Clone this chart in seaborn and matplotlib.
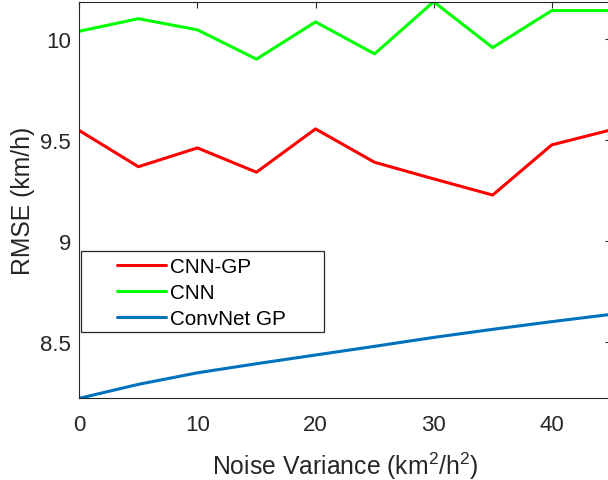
import matplotlib
matplotlib.use("Agg")
import matplotlib.pyplot as plt
import seaborn as sns
import pandas as pd
from matplotlib.patches import Rectangle

noise = [0, 5, 10, 15, 20, 25, 30, 35, 40, 45]
cnn_gp = [9.547, 9.368, 9.461, 9.341, 9.555, 9.39, 9.308, 9.228, 9.476, 9.55]
cnn = [10.038, 10.10, 10.045, 9.90, 10.084, 9.926, 10.184, 9.957, 10.14, 10.14]
convnet_gp = [8.223, 8.292, 8.349, 8.394, 8.437, 8.48, 8.524, 8.564, 8.602, 8.638]
series_names = ["CNN-GP", "CNN", "ConvNet GP"]
x_ticks = [0, 10, 20, 30, 40]
y_ticks = [8.5, 9, 9.5, 10]

sns.set_style("white")
plt.rcParams["font.family"] = ["Liberation Sans", "DejaVu Sans"]
plt.rcParams["mathtext.fontset"] = "custom"
plt.rcParams["mathtext.rm"] = "Liberation Sans"
plt.rcParams["mathtext.it"] = "Liberation Sans:italic"

df = pd.DataFrame({
    "x": noise * 3,
    "y": cnn_gp + cnn + convnet_gp,
    "model": [series_names[0]] * len(noise) + [series_names[1]] * len(noise) + [series_names[2]] * len(noise),
})

W, H = 608, 481
fig = plt.figure(figsize=(W / 100, H / 100), dpi=100)
ax = fig.add_axes([79.3 / W, 1 - 399.3 / H, (610.8 - 79.3) / W, (399.3 - 2.7) / H])

palette = {"CNN-GP": (1, 0, 0), "CNN": (0, 1, 0), "ConvNet GP": (0, 0.447, 0.741)}
sns.lineplot(data=df, x="x", y="y", hue="model", hue_order=series_names,
             palette=palette, linewidth=2.2, ax=ax, legend=True)

gray = (0.15, 0.15, 0.15)
ax.set_xlim(min(noise), max(noise))
ax.set_ylim(min(df["y"]), max(df["y"]))
ax.set_xticks(x_ticks)
ax.set_yticks(y_ticks)
ax.set_yticklabels(["8.5", "9", "9.5", "10"])
ax.tick_params(direction="in", length=4, width=0.8, top=True, right=True,
               labelsize=16, colors=gray, pad=6)
ax.tick_params(axis="x", pad=11)
for s in ax.spines.values():
    s.set_visible(True)
    s.set_color(gray)
    s.set_linewidth(0.8)
ax.set_xlabel("Noise Variance (km$^2$/h$^2$)", fontsize=17.8, color=gray, labelpad=11)
ax.set_ylabel("RMSE (km/h)", fontsize=17.8, color=gray, labelpad=4)

# legend box frame
ax.add_patch(Rectangle((80.7 / W, 1 - 332.7 / H), (324 - 80.7) / W, (332.7 - 251.7) / H,
                       transform=fig.transFigure, facecolor="white", clip_on=False,
                       edgecolor=gray, linewidth=0.9, zorder=3))
handles, labels = ax.get_legend_handles_labels()
leg = ax.legend(handles, labels, loc="upper left", bbox_to_anchor=(117 / W, 1 - 258 / H),
                bbox_transform=fig.transFigure, frameon=False, fontsize=14.9,
                handlelength=2.35, handletextpad=0.2, labelspacing=0.34, borderpad=0,
                borderaxespad=0)
leg.set_zorder(4)
for t in leg.get_texts():
    t.set_color("black")

fig.savefig("out.png", dpi=100)
